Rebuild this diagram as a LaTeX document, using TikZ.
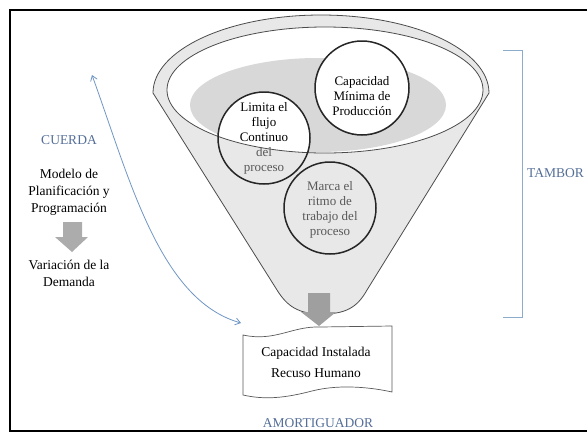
\documentclass[tikz,border=0pt]{standalone}
\usepackage{fontspec}
\setmainfont{Liberation Serif}
\usetikzlibrary{arrows.meta,positioning,calc}
\definecolor{cordblue}{RGB}{84,110,152}
\definecolor{linkblue}{RGB}{112,150,196}
\definecolor{brackblue}{RGB}{140,172,204}
\definecolor{funnelgray}{RGB}{232,232,232}
\definecolor{liquidgray}{RGB}{216,216,216}

\begin{document}
\begin{tikzpicture}[x=1pt, y=1pt, font=\fontsize{13.5}{17}\selectfont,
        ring/.style={circle, draw=black!85, line width=1.5pt, minimum size=92pt, inner sep=0pt},
        ctext/.style={align=center, font=\fontsize{13}{15}\selectfont},
        tagtext/.style={text=cordblue, font=\fontsize{13.5}{16}\selectfont},
        side/.style={align=center},
        outline/.style={draw=black!70, line width=0.8pt},
        blockarrow/.style={fill=gray!65, draw=none}]

        \clip (0,0) rectangle (587,-432);
        \draw[line width=2pt] (10,-10) rectangle (620,-431);

        % funnel
        \filldraw[outline, fill=funnelgray] (153,-93) arc[start angle=180, end angle=0, x radius=168, y radius=78]
            -- (367,-290) .. controls (357,-308) and (345,-314) .. (322,-314)
            .. controls (298,-314) and (287,-306) .. (277,-290) -- cycle;
        \fill[white] (325,-90) ellipse [x radius=158, y radius=63];
        \begin{scope}
            \clip (325,-90) ellipse [x radius=158, y radius=63];
            \fill[liquidgray] (318,-105) ellipse [x radius=128, y radius=47];
            \fill[white] (264,-138) circle [radius=46];
            \fill[white] (362,-88) circle [radius=46];
        \end{scope}
        \draw[outline] (325,-90) ellipse [x radius=158, y radius=63];

        \node[ring] (limita) at (264,-138) {};
        \node[ring, minimum size=94pt] (minima) at (362,-88) {};
        \node[ring] (ritmo) at (330,-208) {};
        \node[ctext] (limitaT) at (264,-138) {Limita el\\flujo\\Continuo\\\textcolor{black!65}{del}\\\textcolor{black!65}{proceso}};
        \node[ctext] (minimaT) at (362,-96) {Capacidad\\Mínima de\\Producción};
        \node[ctext, text=black!65] (ritmoT) at (330,-210) {Marca el\\ritmo de\\trabajo del\\proceso};

        \fill[blockarrow, fill=gray!75] (308,-293) -- (330,-293) -- (330,-312) -- (336,-312)
            -- (319,-326) -- (301,-312) -- (308,-312) -- cycle;

        % buffer
        \filldraw[draw=black!65, line width=0.7pt, fill=white] (243,-335) .. controls (275,-342) and (292,-326) .. (320,-327)
            -- (392,-326) -- (392,-392) .. controls (365,-386) and (335,-385) .. (312,-391)
            .. controls (285,-398) and (265,-400) .. (243,-395) -- cycle;
        \node[align=center, font=\fontsize{13.5}{21}\selectfont] (buffer) at (316,-362) {Capacidad Instalada\\Recuso Humano};
        \node[tagtext] (amort) at (318,-423) {AMORTIGUADOR};

        % rope
        \node[tagtext] (cuerda) at (69,-140) {CUERDA};
        \node[side] (modelo) at (69,-192) {Modelo de\\Planificación y\\Programación};
        \fill[blockarrow] (63,-222) -- (82,-222) -- (82,-237) -- (88,-237) -- (72,-252)
            -- (55,-237) -- (63,-237) -- cycle;
        \node[side] (demanda) at (69,-273.5) {Variación de la\\Demanda};
        \coordinate (ctop) at (92,-75);
        \coordinate (ctip) at (241,-323);
        \draw[linkblue, line width=0.8pt, {Straight Barb[length=5pt,width=7pt]}-{Straight Barb[length=5pt,width=7pt]}]
            (ctop) .. controls (130,-180) and (160,-300) .. (ctip);

        % drum
        \draw[brackblue, line width=1pt] (503,-50) -- (522,-50) -- (522,-317) -- (503,-317);
        \node[tagtext, anchor=west, inner sep=1pt] (tambor) at (526,-173) {TAMBOR};
    \end{tikzpicture}
\end{document}
